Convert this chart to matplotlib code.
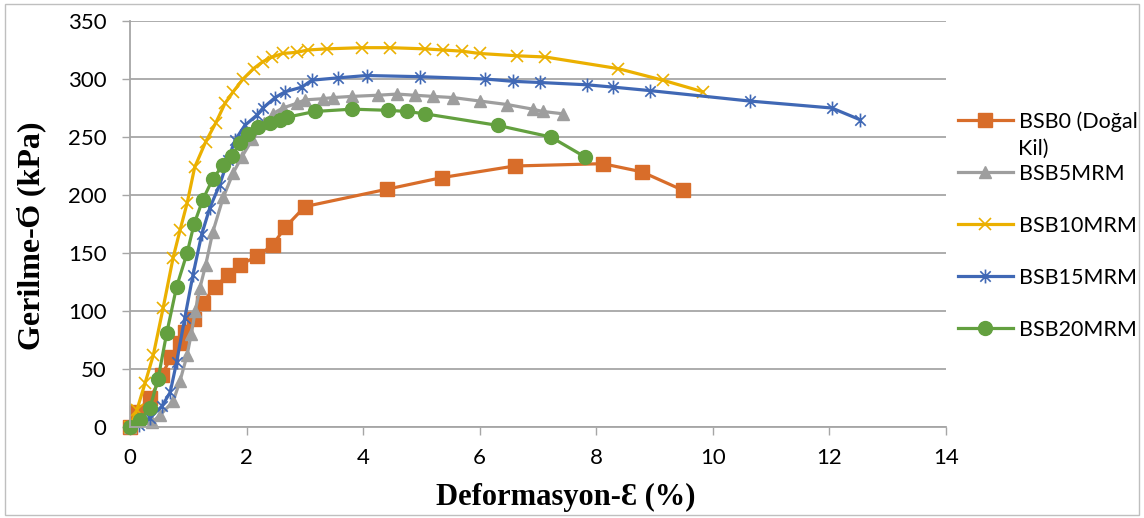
import matplotlib
matplotlib.use("Agg")
import matplotlib.pyplot as plt
from matplotlib.path import Path
from matplotlib.patches import Rectangle

plt.rcParams["font.family"] = ["Lato", "DejaVu Sans"]

# deformation (%) / stress (kPa)
bsb0_x = [0, 0.12, 0.35, 0.55, 0.7, 0.85, 0.95, 1.1, 1.25, 1.46, 1.68, 1.89, 2.18, 2.45, 2.66, 3.0, 4.41, 5.35, 6.6, 8.11, 8.78, 9.49]
bsb0_y = [0, 13, 25, 45, 60, 72, 82, 93, 107, 121, 131, 140, 147, 157, 172, 190, 205, 215, 225, 227, 220, 204]

bsb5_x = [0, 0.38, 0.51, 0.74, 0.86, 0.98, 1.05, 1.12, 1.2, 1.3, 1.42, 1.6, 1.77, 1.92, 2.1, 2.3, 2.45, 2.62, 2.86, 3.0, 3.31, 3.48, 3.81, 4.25, 4.58, 4.89, 5.2, 5.54, 6.0, 6.47, 6.91, 7.08, 7.43]
bsb5_y = [0, 4, 10, 22, 40, 62, 80, 100, 120, 140, 168, 198, 219, 233, 248, 262, 270, 275, 279, 282, 283, 284, 285, 286, 287, 286, 285, 284, 281, 278, 274, 272, 270]

bsb10_x = [0, 0.12, 0.26, 0.4, 0.57, 0.74, 0.86, 0.98, 1.11, 1.3, 1.47, 1.63, 1.77, 1.94, 2.12, 2.28, 2.44, 2.62, 2.86, 3.05, 3.38, 3.98, 4.46, 5.06, 5.37, 5.69, 6.0, 6.64, 7.12, 8.37, 9.14, 9.83]
bsb10_y = [0, 15, 38, 62, 103, 146, 170, 193, 224, 246, 262, 279, 289, 300, 309, 315, 319, 322, 323, 325, 326, 327, 327, 326, 325, 324, 322, 320, 319, 309, 299, 289]

bsb15_x = [0, 0.15, 0.34, 0.55, 0.69, 0.8, 0.94, 1.08, 1.23, 1.37, 1.54, 1.68, 1.8, 1.97, 2.18, 2.28, 2.49, 2.66, 2.95, 3.12, 3.57, 4.06, 4.97, 6.09, 6.57, 7.03, 7.84, 8.29, 8.92, 10.63, 12.04, 12.52]
bsb15_y = [0, 2, 8, 18, 30, 56, 94, 131, 166, 189, 209, 230, 247, 260, 269, 275, 284, 289, 293, 299, 301, 303, 302, 300, 298, 297, 295, 293, 290, 281, 275, 265]

bsb20_x = [0, 0.17, 0.34, 0.48, 0.63, 0.8, 0.98, 1.1, 1.25, 1.42, 1.6, 1.75, 1.89, 2.02, 2.2, 2.4, 2.57, 2.69, 3.17, 3.81, 4.43, 4.75, 5.06, 6.31, 7.22, 7.8]
bsb20_y = [0, 6, 16, 41, 81, 121, 150, 175, 196, 214, 226, 234, 245, 253, 259, 262, 265, 267, 272, 274, 273, 272, 270, 260, 250, 233]

labels = ["BSB0 (Doğal", "BSB5MRM", "BSB10MRM", "BSB15MRM", "BSB20MRM"]
x_ticks = [0, 2, 4, 6, 8, 10, 12, 14]
y_ticks = [0, 50, 100, 150, 200, 250, 300, 350]

# excel style star: x plus vertical bar
star = Path([(0, -1), (0, 1), (-0.75, -0.75), (0.75, 0.75), (-0.75, 0.75), (0.75, -0.75)],
            [Path.MOVETO, Path.LINETO] * 3)

fig = plt.figure(figsize=(11.44, 5.18), dpi=100)
ax = fig.add_axes([130 / 1144, 1 - 427 / 518, 816 / 1144, 406 / 518])

lw = 2.3
ax.plot(bsb0_x, bsb0_y, color="#D86D2A", lw=lw, marker="s", ms=9.5, label=labels[0], clip_on=False)
ax.plot(bsb5_x, bsb5_y, color="#9E9E9E", lw=lw, marker="^", ms=9, label=labels[1], clip_on=False)
ax.plot(bsb10_x, bsb10_y, color="#EBB000", lw=lw, marker="x", ms=9, mew=1.2, label=labels[2], clip_on=False)
ax.plot(bsb15_x, bsb15_y, color="#4068B5", lw=lw, marker=star, ms=10, mew=1.2, mfc="none", label=labels[3], clip_on=False)
ax.plot(bsb20_x, bsb20_y, color="#63A03F", lw=lw, marker="o", ms=10, label=labels[4], clip_on=False)

ax.set_xlim(0, 14)
ax.set_ylim(0, 350)
ax.set_xticks(x_ticks)
ax.set_yticks(y_ticks)
ax.tick_params(axis="x", direction="out", length=6, width=1, color="#A6A6A6", pad=9, labelsize=16)
ax.tick_params(axis="y", direction="out", length=6, width=1, color="#A6A6A6", pad=11, labelsize=16)
ax.yaxis.grid(True, color="#A6A6A6", lw=1.3)
ax.set_axisbelow(True)
for s in ["top", "right"]:
    ax.spines[s].set_visible(False)
for s in ["left", "bottom"]:
    ax.spines[s].set_color("#A6A6A6")
    ax.spines[s].set_linewidth(1.3)

serif = ["Liberation Serif", "DejaVu Serif"]
ax.set_xlabel("Deformasyon-Ɛ (%)", family=serif, fontsize=22, fontweight="bold")
ax.set_ylabel("Gerilme-Ϭ (kPa)", family=serif, fontsize=23, fontweight="bold")
ax.xaxis.set_label_coords(0.534, -0.137)
ax.yaxis.set_label_coords(-0.103, 0.47)

leg = fig.legend(loc="upper left", bbox_to_anchor=(958 / 1144, 1 - 111 / 518), frameon=False,
                 fontsize=15.5, handlelength=2.55, handletextpad=0.28, labelspacing=1.49,
                 borderpad=0, borderaxespad=0)
fig.text(1018 / 1144, 1 - 149 / 518, "Kil)", fontsize=15.5, va="center", ha="left")

fig.patches.append(Rectangle((5 / 1144, 3 / 518), 1134 / 1144, 511 / 518, transform=fig.transFigure,
                             fill=False, edgecolor="#BFBFBF", lw=1))

fig.savefig("out.png", dpi=100)
